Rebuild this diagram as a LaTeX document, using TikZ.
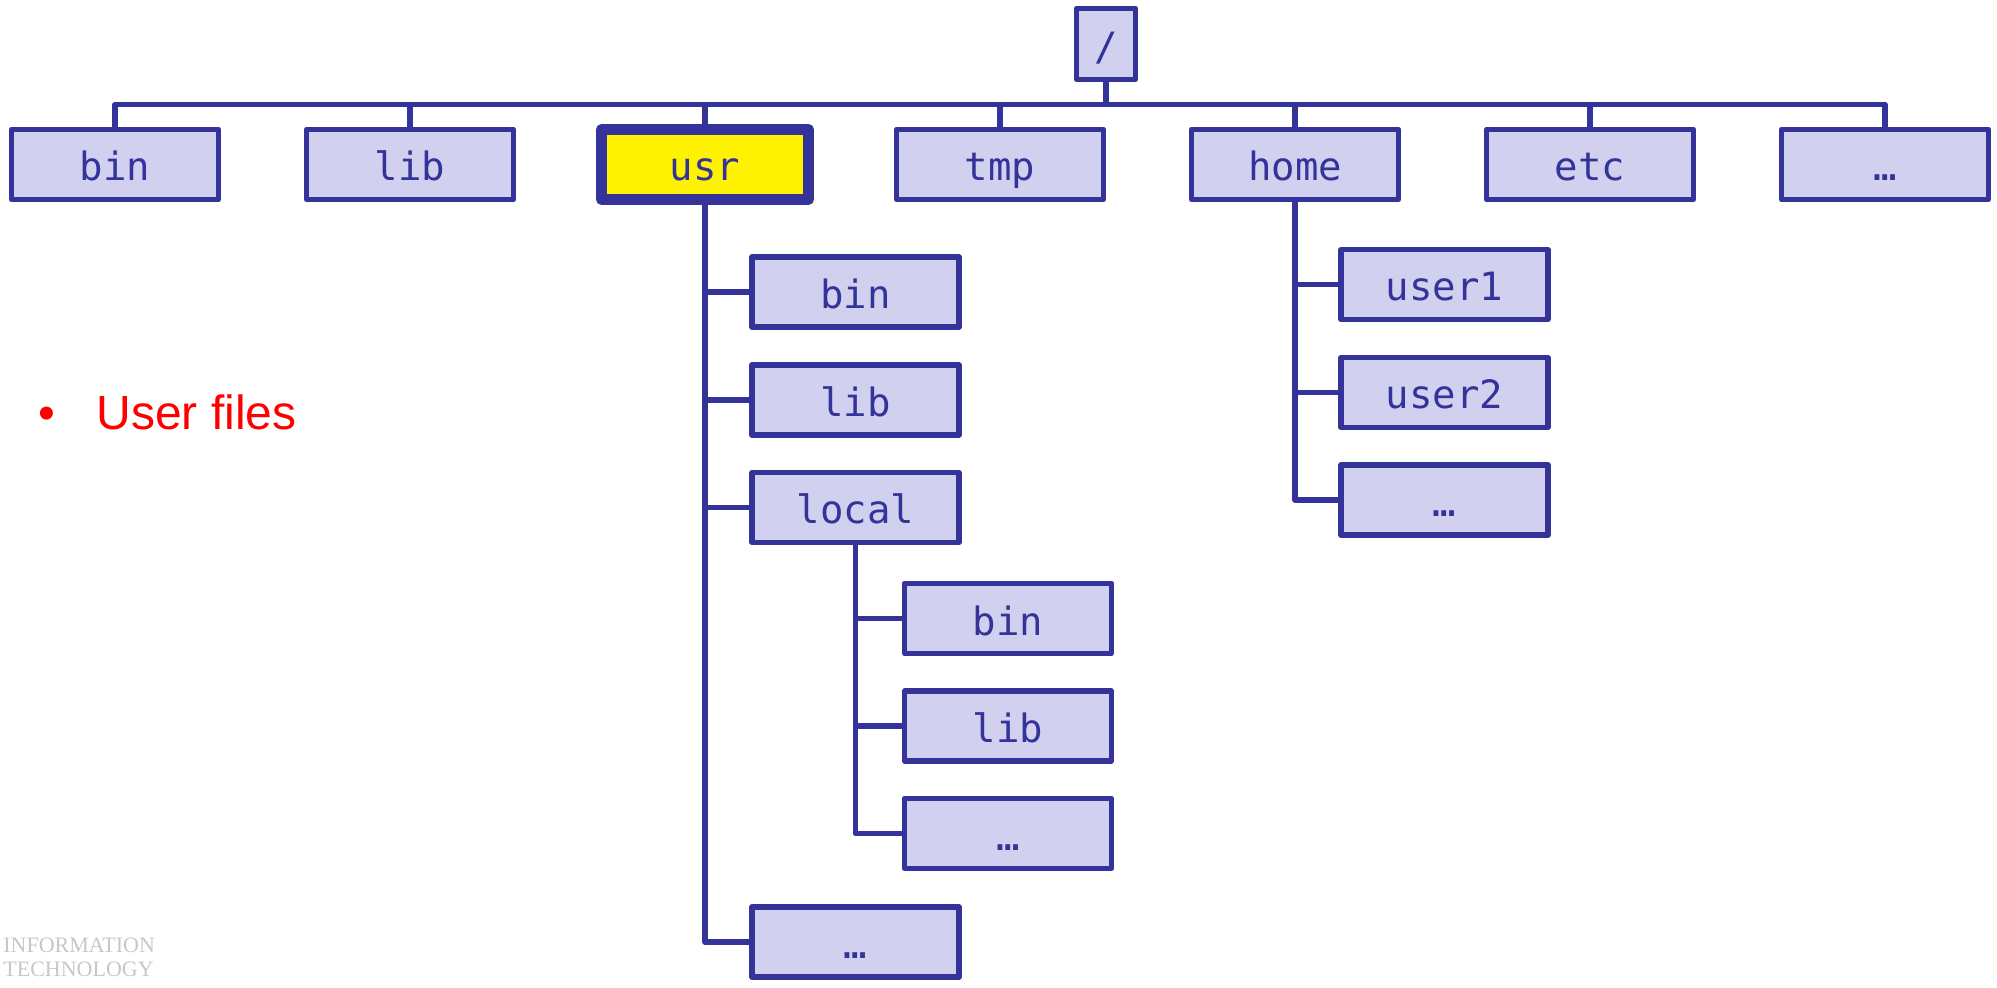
\documentclass[tikz,border=0pt]{standalone}
\usepackage{fontspec}
\setmainfont{Liberation Sans}
\newfontfamily\dirfont{DejaVu Sans Mono}
\newfontfamily\markfont{Liberation Serif}
\definecolor{dirblue}{RGB}{51,51,153}
\definecolor{dirfill}{RGB}{209,209,239}
\tikzset{
  dirbox/.style = {draw = dirblue, fill = dirfill, line width = 2.6pt,
    line join = round, text = dirblue, minimum width = 103.5pt,
    minimum height = 35pt, inner sep = 2pt, text height = 16.5pt,
    text depth = 0pt, font = \dirfont\fontsize{19.5}{23}\selectfont},
  link/.style = {draw = dirblue, line width = 2.8pt, line join = round},
}
\begin{document}
\begin{tikzpicture}[x = .5pt, y = -.5pt]
  \useasboundingbox (0, 0) rectangle (1997, 988);
  % root and first level
  \node[dirbox, minimum width = 29.5pt, minimum height = 35.5pt] (root) at
  (1106, 44) {/};
  \coordinate (bus) at (1106, 104.5);
  \foreach \nm/\txt/\xx in {bin/bin/115, lib/lib/410, tmp/tmp/1000,
    home/home/1295, etc/etc/1590, more/…/1885}
    \node[dirbox] (\nm) at (\xx, 164.5) {\txt};
  \node[dirbox, fill = yellow, line width = 5.5pt] (usr) at (705, 164.5)
  {usr};
  \draw[link] (root.south) -- (bus);
  \draw[link] (bin.north) |- (bus) -| (more.north);
  \foreach \nm in {lib, usr, tmp, home, etc}
    \draw[link] (\nm.north) -- (\nm.north |- bus);
  % /usr
  \foreach \nm/\txt/\yy in {ubin/bin/292, ulib/lib/400, local/local/507.5,
    umore/…/942}
    \node[dirbox] (\nm) at (855.5, \yy) {\txt};
  \draw[link] (usr.south) |- (umore.west);
  \foreach \nm in {ubin, ulib, local}
    \draw[link] (usr.south |- \nm.west) -- (\nm.west);
  % /usr/local
  \foreach \nm/\txt/\yy in {lbin/bin/618.5, llib/lib/726, lmore/…/833.5}
    \node[dirbox] (\nm) at (1008, \yy) {\txt};
  \draw[link] (local.south) |- (lmore.west);
  \foreach \nm in {lbin, llib}
    \draw[link] (local.south |- \nm.west) -- (\nm.west);
  % /home
  \foreach \nm/\txt/\yy in {user1/user1/284.5, user2/user2/392.5,
    hmore/…/500}
    \node[dirbox] (\nm) at (1444.5, \yy) {\txt};
  \draw[link] (home.south) |- (hmore.west);
  \foreach \nm in {user1, user2}
    \draw[link] (home.south |- \nm.west) -- (\nm.west);
  % side note and mark
  \node[anchor = base west, inner sep = 0, text = red,
  font = \fontsize{24}{28}\selectfont] (note) at (38, 430)
  {\textbullet\hspace{20.6pt}User files};
  \node[anchor = north west, inner sep = 0, align = left, text = black!22,
  font = \markfont\fontsize{11}{12}\selectfont] (mark) at (3, 938)
  {INFORMATION\\TECHNOLOGY};
\end{tikzpicture}
\end{document}
